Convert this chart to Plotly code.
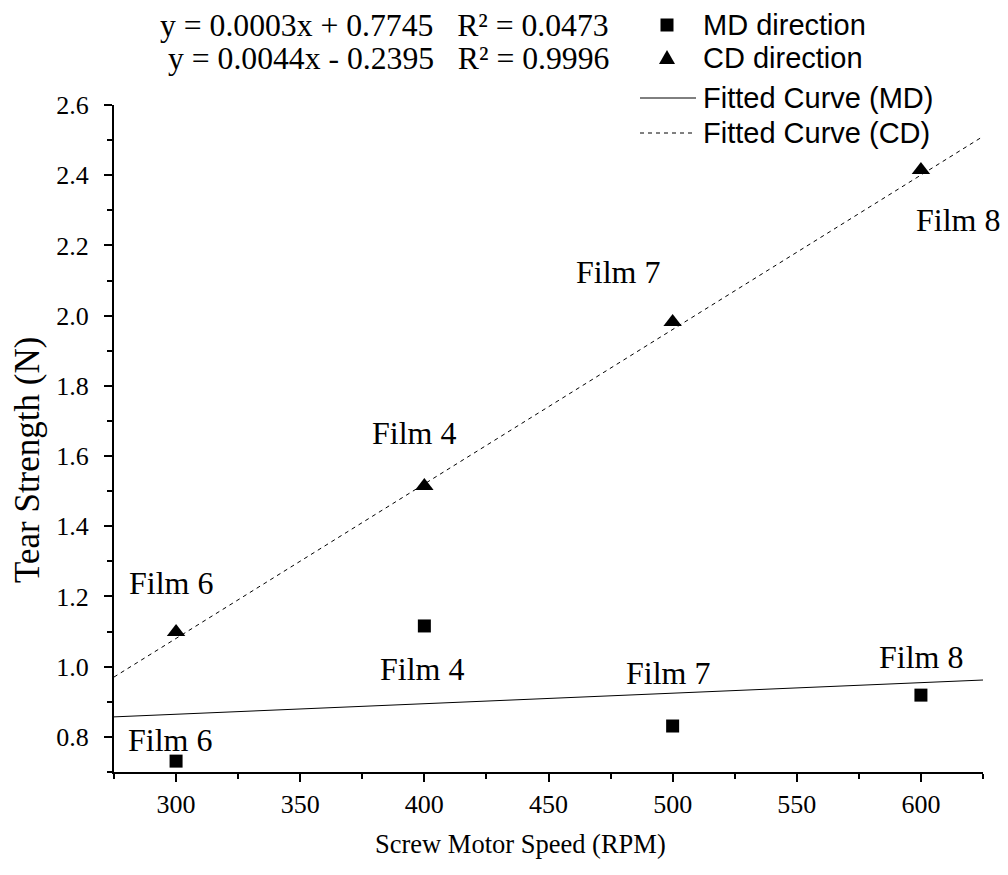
import numpy as np
import plotly.graph_objects as go

# ---- data ----
speed = [300, 400, 500, 600]
md_strength = [0.731, 1.116, 0.831, 0.919]
cd_strength = [1.099, 1.515, 1.982, 2.415]
film_labels = ["Film 6", "Film 4", "Film 7", "Film 8"]

md_fit = {"slope": 0.0003, "intercept": 0.7745, "r2": 0.0473}
cd_fit = {"slope": 0.0044, "intercept": -0.2395, "r2": 0.9996}

x_range = [275, 625]
y_range = [0.7, 2.6]
x_ticks = [300, 350, 400, 450, 500, 550, 600]
y_ticks = [0.8, 1.0, 1.2, 1.4, 1.6, 1.8, 2.0, 2.2, 2.4, 2.6]
y_ticktext = ["0.8", "1.0", "1.2", "1.4", "1.6", "1.8", "2.0", "2.2", "2.4", "2.6"]

# label positions (data coords)
cd_label_x = [298, 396, 478, 615]
cd_label_y = [1.238, 1.666, 2.124, 2.272]
md_label_x = [297.5, 399, 498, 600]
md_label_y = [0.791, 0.993, 0.982, 1.027]

legend_names = ["MD direction", "CD direction", "Fitted Curve (MD)", "Fitted Curve (CD)"]

SERIF = "Liberation Serif, Times New Roman, serif"
SANS = "Liberation Sans, Arial, sans-serif"

W, H = 1008, 875
OFF = 8  # page body margin
# plot box in screen pixels
SL, SR, ST, SB = 114, 983, 105, 772
L, T = SL - OFF, ST - OFF
R, B = W - (SR - OFF), H - (SB - OFF)
pw, ph = SR - SL, SB - ST


def px_to_paper(sx, sy):
    return (sx - SL) / pw, (SB - sy) / ph


fit_x = np.array(x_range, dtype=float)

fig = go.Figure()
fig.add_trace(go.Scatter(
    x=speed, y=md_strength, mode="markers", name=legend_names[0], showlegend=False,
    marker=dict(symbol="square", size=13, color="black"), cliponaxis=False))
fig.add_trace(go.Scatter(
    x=speed, y=cd_strength, mode="markers", name=legend_names[1], showlegend=False,
    marker=dict(symbol="triangle-up", size=16, color="black"), cliponaxis=False))
fig.add_trace(go.Scatter(
    x=fit_x, y=md_fit["slope"] * fit_x + md_fit["intercept"], mode="lines",
    name=legend_names[2], showlegend=False, line=dict(color="black", width=1)))
fig.add_trace(go.Scatter(
    x=fit_x, y=cd_fit["slope"] * fit_x + cd_fit["intercept"], mode="lines",
    name=legend_names[3], showlegend=False,
    line=dict(color="black", width=1, dash="4px,4px")))

ann = []
for lx, ly, t in zip(cd_label_x + md_label_x, cd_label_y + md_label_y, film_labels + film_labels):
    ann.append(dict(x=lx, y=ly, xref="x", yref="y", text=t, showarrow=False,
                    font=dict(family=SERIF, size=32, color="black")))


def eq_text(f):
    sign = "+" if f["intercept"] >= 0 else "-"
    return "y = %.4fx %s %.4f   R² = %.4f" % (f["slope"], sign, abs(f["intercept"]), f["r2"])


row_y = [25, 58, 98, 133]  # legend row centres (screen px)

for f, py in ((md_fit, row_y[0] + 1), (cd_fit, row_y[1])):
    ex, ey = px_to_paper(611, py)
    ann.append(dict(x=ex, y=ey, xref="paper", yref="paper", text=eq_text(f),
                    showarrow=False, xanchor="right", yanchor="middle",
                    font=dict(family=SERIF, size=31.7, color="black")))

# manual legend
shapes = []
for name, py in zip(legend_names, row_y):
    tx_, ty_ = px_to_paper(701, py)
    ann.append(dict(x=tx_, y=ty_, xref="paper", yref="paper", text=name,
                    showarrow=False, xanchor="left", yanchor="middle",
                    font=dict(family=SANS, size=29, color="black")))
mx, my = px_to_paper(667, row_y[0])
shapes.append(dict(type="rect", xref="paper", yref="paper", xsizemode="pixel",
                   ysizemode="pixel", xanchor=mx, yanchor=my, x0=-6.5, x1=6.5,
                   y0=-6.5, y1=6.5, fillcolor="black", line=dict(width=0)))
mx, my = px_to_paper(667, row_y[1])
shapes.append(dict(type="path", xref="paper", yref="paper", xsizemode="pixel",
                   ysizemode="pixel", xanchor=mx, yanchor=my,
                   path="M -8,-6 L 8,-6 L 0,8 Z", fillcolor="black", line=dict(width=0)))
for py, dash in ((row_y[2], "solid"), (row_y[3], "4px,4px")):
    x0p, yp = px_to_paper(640, py)
    x1p, _ = px_to_paper(696, py)
    shapes.append(dict(type="line", xref="paper", yref="paper", x0=x0p, x1=x1p,
                       y0=yp, y1=yp, line=dict(color="black", width=1, dash=dash)))

tx, ty = px_to_paper(520, 844)
ann.append(dict(x=tx, y=ty, xref="paper", yref="paper", yanchor="middle",
                text="Screw Motor Speed (RPM)", showarrow=False,
                font=dict(family=SERIF, size=26.5, color="black")))
tx, ty = px_to_paper(27, 460)
ann.append(dict(x=tx, y=ty, xref="paper", yref="paper", xanchor="center", yanchor="middle",
                text="Tear Strength (N)", showarrow=False, textangle=-90,
                font=dict(family=SERIF, size=35, color="black")))

axis_common = dict(
    showline=True, linecolor="black", linewidth=2, ticks="outside",
    ticklen=8, tickwidth=2, tickcolor="black", showgrid=False, zeroline=False,
    tickfont=dict(family=SERIF, size=26, color="black"), mirror=False, automargin=False,
)

fig.update_layout(
    width=W, height=H,
    margin=dict(l=L, r=R, t=T, b=B, autoexpand=False),
    paper_bgcolor="white", plot_bgcolor="white",
    xaxis=dict(range=x_range, tickvals=x_ticks,
               minor=dict(tickvals=[275, 325, 375, 425, 475, 525, 575, 625],
                          ticklen=5, tickwidth=2, tickcolor="black", ticks="outside"),
               **axis_common),
    yaxis=dict(range=y_range, tickvals=y_ticks, ticktext=y_ticktext, ticklabelstandoff=10,
               minor=dict(tickvals=[0.7, 0.9, 1.1, 1.3, 1.5, 1.7, 1.9, 2.1, 2.3, 2.5],
                          ticklen=5, tickwidth=2, tickcolor="black", ticks="outside"),
               **axis_common),
    showlegend=False,
    annotations=ann,
    shapes=shapes,
)

fig.write_html("out.html")
